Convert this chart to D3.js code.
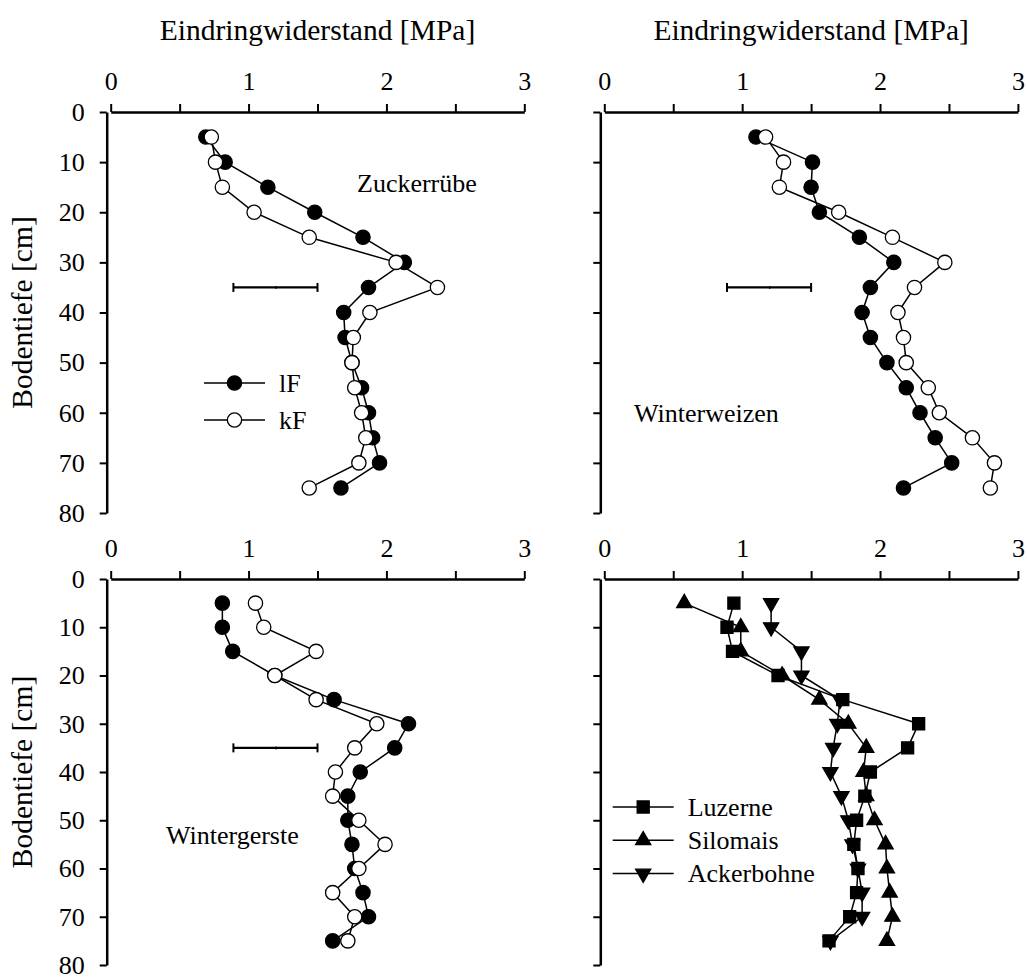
<!DOCTYPE html>
<html>
<head>
<meta charset="utf-8">
<script src="https://cdn.jsdelivr.net/npm/d3@7"></script>
<style>
  body { margin: 0; background: #fff; }
  text { font-family: "Liberation Serif", "Times New Roman", "DejaVu Serif", serif; fill: #000; }
</style>
</head>
<body>
<svg id="canvas" width="1027" height="977"></svg>
<script>
// depth [cm] of each measurement
let depths = [5, 10, 15, 20, 25, 30, 35, 40, 45, 50, 55, 60, 65, 70, 75];
let xTicks = [0, 0.5, 1, 1.5, 2, 2.5, 3];
let yTicks = [0, 10, 20, 30, 40, 50, 60, 70, 80];

// Zuckerrübe
let zuckerLF = [0.69, 0.83, 1.14, 1.48, 1.83, 2.13, 1.87, 1.69, 1.70, 1.75, 1.82, 1.87, 1.90, 1.95, 1.67];
let zuckerKF = [0.73, 0.76, 0.81, 1.04, 1.44, 2.07, 2.37, 1.88, 1.76, 1.75, 1.77, 1.82, 1.85, 1.80, 1.44];

// Winterweizen
let weizenLF = [1.10, 1.51, 1.50, 1.56, 1.85, 2.10, 1.93, 1.87, 1.93, 2.05, 2.19, 2.29, 2.40, 2.52, 2.17];
let weizenKF = [1.17, 1.30, 1.27, 1.70, 2.09, 2.47, 2.25, 2.13, 2.17, 2.19, 2.35, 2.43, 2.67, 2.83, 2.80];

// Wintergerste
let gersteLF = [0.81, 0.81, 0.885, 1.19, 1.62, 2.16, 2.06, 1.81, 1.72, 1.72, 1.75, 1.77, 1.83, 1.87, 1.61];
let gersteKF = [1.05, 1.11, 1.49, 1.19, 1.49, 1.93, 1.77, 1.63, 1.61, 1.80, 1.99, 1.80, 1.61, 1.77, 1.72];

// Luzerne, Silomais, Ackerbohne
let luzerne = [0.94, 0.89, 0.93, 1.26, 1.73, 2.28, 2.20, 1.93, 1.89, 1.83, 1.81, 1.84, 1.83, 1.78, 1.63];
let silomais = [0.58, 0.99, 0.99, 1.29, 1.56, 1.77, 1.90, 1.88, 1.90, 1.96, 2.04, 2.05, 2.07, 2.09, 2.05];
let ackerbohne = [1.21, 1.21, 1.43, 1.43, 1.71, 1.69, 1.66, 1.64, 1.72, 1.77, 1.80, 1.84, 1.87, 1.87, 1.64];

// error bar (LSD) at 35 cm: [low, mid, high]
let errorBar = [0.89, 1.20, 1.50];
let errorDepth = 35;

let xTitle = "Eindringwiderstand [MPa]";
let yTitle = "Bodentiefe [cm]";

let svg = d3.select("#canvas");

let symCircle = d3.symbol().type(d3.symbolCircle).size(160);
let symSquare = d3.symbol().type(d3.symbolSquare).size(145);
let symTri = d3.symbol().type(d3.symbolTriangle).size(100);

let panels = [
  { x0: 110.7, y0: 112, y1: 513, yLabels: true, title: true, bar: true,
    label: "Zuckerrübe", lx: 357, ly: 192,
    series: [
      { name: "lF", values: zuckerLF, shape: "circle", fill: "#000" },
      { name: "kF", values: zuckerKF, shape: "circle", fill: "#fff" }
    ],
    legend: { x: 204, y: 383, step: 37 } },
  { x0: 604.3, y0: 112, y1: 513, yLabels: false, title: true, bar: true,
    label: "Winterweizen", lx: 634, ly: 422,
    series: [
      { name: "lF", values: weizenLF, shape: "circle", fill: "#000" },
      { name: "kF", values: weizenKF, shape: "circle", fill: "#fff" }
    ] },
  { x0: 110.7, y0: 579, y1: 965, yLabels: true, title: false, bar: true,
    label: "Wintergerste", lx: 166, ly: 844,
    series: [
      { name: "lF", values: gersteLF, shape: "circle", fill: "#000" },
      { name: "kF", values: gersteKF, shape: "circle", fill: "#fff" }
    ] },
  { x0: 604.3, y0: 579, y1: 965, yLabels: false, title: false, bar: false,
    series: [
      { name: "Luzerne", values: luzerne, shape: "square", fill: "#000" },
      { name: "Silomais", values: silomais, shape: "up", fill: "#000" },
      { name: "Ackerbohne", values: ackerbohne, shape: "down", fill: "#000" }
    ],
    legend: { x: 612.7, y: 807, step: 33.3 } }
];

let drawMarker = (g, shape, fill, x, y) => {
  let gen = shape === "circle" ? symCircle : shape === "square" ? symSquare : symTri;
  let rot = shape === "down" ? " rotate(180)" : "";
  g.append("path")
    .attr("d", gen())
    .attr("transform", "translate(" + x + "," + y + ")" + rot)
    .attr("fill", fill)
    .attr("stroke", "#000")
    .attr("stroke-width", 1.3);
};

panels.forEach((p) => {
  let xScale = d3.scaleLinear().domain([0, 3]).range([p.x0, p.x0 + 413.6]);
  let yScale = d3.scaleLinear().domain([0, 80]).range([p.y0, p.y1]);

  // x axis on top
  let xAxis = d3.axisTop(xScale)
    .tickValues(xTicks)
    .tickSize(8)
    .tickSizeOuter(0)
    .tickPadding(14)
    .tickFormat((d) => (Number.isInteger(d) ? d : ""));
  let gx = svg.append("g").attr("transform", "translate(0," + p.y0 + ")").call(xAxis);
  gx.attr("font-family", null);
  gx.select(".domain").attr("stroke-width", 2.5);
  gx.selectAll(".tick line").attr("stroke-width", 2);
  gx.selectAll("text").style("font-size", "26px");

  // y axis on left, slightly offset
  let yAxis = d3.axisLeft(yScale)
    .tickValues(yTicks)
    .tickSize(7)
    .tickSizeOuter(0)
    .tickPadding(15)
    .tickFormat((d) => (p.yLabels ? d : ""));
  let gy = svg.append("g").attr("transform", "translate(" + (p.x0 - 4) + ",0)").call(yAxis);
  gy.attr("font-family", null);
  gy.select(".domain").attr("stroke-width", 2.5);
  gy.selectAll(".tick line").attr("stroke-width", 2);
  gy.selectAll("text").style("font-size", "26px");

  if (p.title) {
    svg.append("text")
      .attr("x", (xScale(0) + xScale(3)) / 2)
      .attr("y", 40)
      .attr("text-anchor", "middle")
      .style("font-size", "29.5px")
      .text(xTitle);
  }
  if (p.yLabels) {
    let cy = (p.y0 + p.y1) / 2;
    svg.append("text")
      .attr("transform", "translate(32," + cy + ") rotate(-90)")
      .attr("text-anchor", "middle")
      .style("font-size", "29.5px")
      .text(yTitle);
  }

  // series lines then markers
  p.series.forEach((s) => {
    let pts = depths.map((d, i) => [xScale(s.values[i]), yScale(d)]);
    svg.append("path")
      .attr("d", d3.line()(pts))
      .attr("fill", "none")
      .attr("stroke", "#000")
      .attr("stroke-width", 1.5);
  });
  p.series.forEach((s) => {
    let g = svg.append("g");
    depths.forEach((d, i) => {
      drawMarker(g, s.shape, s.fill, xScale(s.values[i]), yScale(d));
    });
  });

  if (p.bar) {
    let by = yScale(errorDepth);
    let g = svg.append("g").attr("stroke", "#000");
    g.append("line").attr("x1", xScale(errorBar[0])).attr("x2", xScale(errorBar[2]))
      .attr("y1", by).attr("y2", by).attr("stroke-width", 2.2);
    [errorBar[0], errorBar[2]].forEach((v) => {
      g.append("line").attr("x1", xScale(v)).attr("x2", xScale(v))
        .attr("y1", by - 4.5).attr("y2", by + 4.5).attr("stroke-width", 2);
    });
    g.append("line").attr("x1", xScale(errorBar[1])).attr("x2", xScale(errorBar[1]))
      .attr("y1", by - 1.5).attr("y2", by + 1.5).attr("stroke-width", 1.2);
  }

  if (p.label) {
    svg.append("text").attr("x", p.lx).attr("y", p.ly)
      .style("font-size", "26px").text(p.label);
  }

  if (p.legend) {
    p.series.forEach((s, i) => {
      let ly = p.legend.y + i * p.legend.step;
      svg.append("line")
        .attr("x1", p.legend.x).attr("x2", p.legend.x + 61)
        .attr("y1", ly).attr("y2", ly)
        .attr("stroke", "#000").attr("stroke-width", 1.5);
      drawMarker(svg, s.shape, s.fill, p.legend.x + 30.5, ly);
      svg.append("text")
        .attr("x", p.legend.x + 75).attr("y", ly)
        .attr("dy", "0.33em")
        .style("font-size", "26px")
        .text(s.name);
    });
  }
});
</script>
</body>
</html>
